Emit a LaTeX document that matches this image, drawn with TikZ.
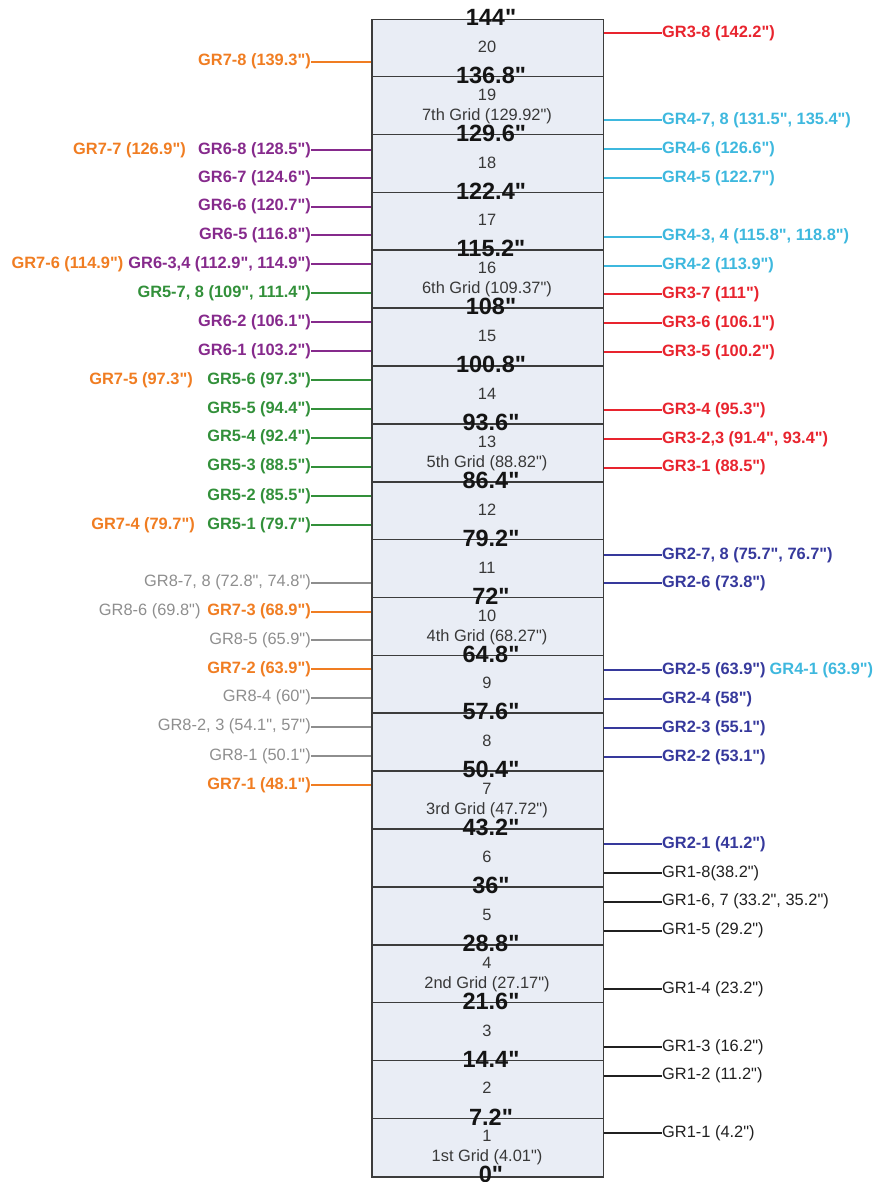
\documentclass[tikz,border=0pt]{standalone}
\usepackage{fontspec}
\setmainfont{Liberation Sans}[Ligatures=TeXOff]
\newcommand{\dq}{\char34\relax}
\definecolor{cOr}{HTML}{F07D22}
\definecolor{cPu}{HTML}{862A8C}
\definecolor{cGr}{HTML}{32903A}
\definecolor{cGy}{HTML}{8E8E8E}
\definecolor{cRd}{HTML}{E8242E}
\definecolor{cCy}{HTML}{3EB8DE}
\definecolor{cBl}{HTML}{36399C}
\definecolor{cBk}{HTML}{202020}
\definecolor{boxfill}{HTML}{E9EDF5}
\definecolor{boxline}{HTML}{3C3C3C}
\begin{document}
\begin{tikzpicture}[x=1pt,y=-1pt,
  lbl/.style={inner sep=0pt, font=\fontsize{16.4}{18}\selectfont\bfseries},
  lblr/.style={inner sep=0pt, font=\fontsize{16.4}{18}\selectfont},
  lft/.style={anchor=east},
  rgt/.style={anchor=west},
  conn/.style={line width=2pt},
  bnum/.style={inner sep=0pt, anchor=base, text=black!78, font=\fontsize{16.4}{18}\selectfont},
  bval/.style={inner sep=0pt, anchor=base, text=black!92, font=\fontsize{23.5}{26}\selectfont\bfseries},
  divider/.style={draw=boxline, line width=1.6pt}
]
\useasboundingbox (0,0) rectangle (874,1182);
% main column
\node[draw=boxline, line width=1.6pt, fill=boxfill, minimum width=231.7pt, minimum height=1157.4pt, inner sep=0pt, anchor=north west] (box) at (371,18.8) {};
\foreach \k in {1,...,19}
  \draw[divider] (371,{18.8+\k*57.87}) -- (602.7,{18.8+\k*57.87});
% band numbers
\foreach \n in {20,18,17,15,14,12,11,9,8,6,5,3,2}
  \node[bnum] (n\n) at (487,{18.8+(20-\n)*57.87+33.5}) {\n};
\foreach \n/\g in {19/7th Grid (129.92\dq),16/6th Grid (109.37\dq),13/5th Grid (88.82\dq),10/4th Grid (68.27\dq),7/3rd Grid (47.72\dq),4/2nd Grid (27.17\dq),1/1st Grid (4.01\dq)}{
  \node[bnum] (n\n) at (487,{18.8+(20-\n)*57.87+23.5}) {\n};
  \node[bnum] (g\n) at (487,{18.8+(20-\n)*57.87+43.5}) {\g};
}
% boundary values
\foreach \k/\v in {0/144,1/136.8,2/129.6,3/122.4,4/115.2,5/108,6/100.8,7/93.6,8/86.4,9/79.2,10/72,11/64.8,12/57.6,13/50.4,14/43.2,15/36,16/28.8,17/21.6,18/14.4,19/7.2,20/0}
  \node[bval] (v\k) at (491,{18.8+\k*57.87+6.7}) {\v\dq};

% ---------- left side connectors ----------
\foreach \nm/\yy/\col/\txt in {
  l78/61.7/cOr/GR7-8 (139.3\dq),
  l68/150/cPu/GR6-8 (128.5\dq),
  l67/178.3/cPu/GR6-7 (124.6\dq),
  l66/206.7/cPu/GR6-6 (120.7\dq),
  l65/235.3/cPu/GR6-5 (116.8\dq),
  l634/264.3/cPu/{GR6-3,4 (112.9\dq, 114.9\dq)},
  l578/293.3/cGr/{GR5-7, 8 (109\dq, 111.4\dq)},
  l62/322.3/cPu/GR6-2 (106.1\dq),
  l61/351/cPu/GR6-1 (103.2\dq),
  l56/380/cGr/GR5-6 (97.3\dq),
  l55/409/cGr/GR5-5 (94.4\dq),
  l54/437.7/cGr/GR5-4 (92.4\dq),
  l53/466.7/cGr/GR5-3 (88.5\dq),
  l52/496/cGr/GR5-2 (85.5\dq),
  l51/525/cGr/GR5-1 (79.7\dq),
  l73/611.7/cOr/GR7-3 (68.9\dq),
  l72/669.3/cOr/GR7-2 (63.9\dq),
  l71/785.3/cOr/GR7-1 (48.1\dq)}{
  \node[lbl, lft, text=\col] (\nm) at (311,\yy) {\txt};
  \draw[conn, draw=\col] (\nm.east) -- (\nm.east -| box.west);
}
\foreach \nm/\yy/\txt in {
  l878/582.7/{GR8-7, 8 (72.8\dq, 74.8\dq)},
  l85/640/GR8-5 (65.9\dq),
  l84/697.7/GR8-4 (60\dq),
  l823/726.7/{GR8-2, 3 (54.1\dq, 57\dq)},
  l81/756/GR8-1 (50.1\dq)}{
  \node[lblr, lft, text=cGy] (\nm) at (311,\yy) {\txt};
  \draw[conn, draw=cGy] (\nm.east) -- (\nm.east -| box.west);
}
% text-only labels on the left
\node[lbl, lft, text=cOr] (t77) at (186,150) {GR7-7 (126.9\dq)};
\node[lbl, lft, text=cOr] (t76) at (123.5,264.3) {GR7-6 (114.9\dq)};
\node[lbl, lft, text=cOr] (t75) at (193,380) {GR7-5 (97.3\dq)};
\node[lbl, lft, text=cOr] (t74) at (195,525) {GR7-4 (79.7\dq)};
\node[lblr, lft, text=cGy] (t86) at (200.7,611.7) {GR8-6 (69.8\dq)};

% ---------- right side connectors ----------
\foreach \nm/\yy/\col/\txt in {
  r38/33.3/cRd/GR3-8 (142.2\dq),
  r478/120/cCy/{GR4-7, 8 (131.5\dq, 135.4\dq)},
  r46/149.3/cCy/GR4-6 (126.6\dq),
  r45/178.3/cCy/GR4-5 (122.7\dq),
  r434/236.7/cCy/{GR4-3, 4 (115.8\dq, 118.8\dq)},
  r42/265.7/cCy/GR4-2 (113.9\dq),
  r37/294.3/cRd/GR3-7 (111\dq),
  r36/323.3/cRd/GR3-6 (106.1\dq),
  r35/352/cRd/GR3-5 (100.2\dq),
  r34/410/cRd/GR3-4 (95.3\dq),
  r323/439/cRd/{GR3-2,3 (91.4\dq, 93.4\dq)},
  r31/467.7/cRd/GR3-1 (88.5\dq),
  r278/555/cBl/{GR2-7, 8 (75.7\dq, 76.7\dq)},
  r26/583.3/cBl/GR2-6 (73.8\dq),
  r25/670/cBl/GR2-5 (63.9\dq),
  r24/699.3/cBl/GR2-4 (58\dq),
  r23/728.3/cBl/GR2-3 (55.1\dq),
  r22/757.3/cBl/GR2-2 (53.1\dq),
  r21/844.3/cBl/GR2-1 (41.2\dq)}{
  \node[lbl, rgt, text=\col] (\nm) at (662,\yy) {\txt};
  \draw[conn, draw=\col] (box.east |- \nm.west) -- (\nm.west);
}
\foreach \nm/\yy/\txt in {
  r18/873.3/GR1-8(38.2\dq),
  r167/901.7/{GR1-6, 7 (33.2\dq, 35.2\dq)},
  r15/930.7/GR1-5 (29.2\dq),
  r14/989/GR1-4 (23.2\dq),
  r13/1047.3/GR1-3 (16.2\dq),
  r12/1075.7/GR1-2 (11.2\dq),
  r11/1133.3/GR1-1 (4.2\dq)}{
  \node[lblr, rgt, text=cBk] (\nm) at (662,\yy) {\txt};
  \draw[conn, draw=cBk] (box.east |- \nm.west) -- (\nm.west);
}
\node[lbl, rgt, text=cCy] (t41) at (769.5,670) {GR4-1 (63.9\dq)};
\end{tikzpicture}
\end{document}
